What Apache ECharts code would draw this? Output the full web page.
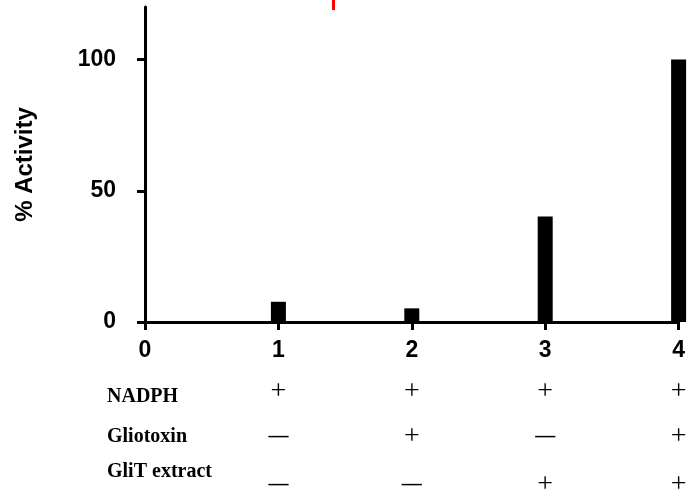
<!DOCTYPE html>
<html>
<head>
<meta charset="utf-8">
<script src="https://cdn.jsdelivr.net/npm/echarts@6/dist/echarts.min.js"></script>
<style>html,body{margin:0;padding:0;background:#fff}#c{width:688px;height:498px}</style>
</head>
<body>
<div id="c"></div>
<script>
// sample positions on the x axis
const samples = [1, 2, 3, 4];
// % activity per sample
const activity = [7.7, 5.2, 40.2, 100];
// y-axis tick labels
const yTickValues = [0, 50, 100];
// x-axis tick labels
const xTickValues = [0, 1, 2, 3, 4];
// condition table rows
const rowNames = ['NADPH', 'Gliotoxin', 'GliT extract'];
const nadph = ['+', '+', '+', '+'];
const gliotoxin = ['—', '+', '—', '+'];
const glitExtract = ['—', '—', '+', '+'];

const chart = echarts.init(document.getElementById('c'), null, {renderer: 'canvas'});
const boldSans = 'Liberation Sans, Arial, sans-serif';
const serif = 'Liberation Serif, Times New Roman, serif';

chart.setOption({
  animation: false,
  backgroundColor: '#ffffff',
  grid: {left: 145, right: 7, top: 7, bottom: 176, containLabel: false},
  xAxis: {
    type: 'value', min: 0, max: 4, interval: 1,
    splitLine: {show: false},
    axisLine: {show: true, lineStyle: {color: '#000', width: 3}},
    axisTick: {show: true, length: 8, lineStyle: {color: '#000', width: 3}, customValues: xTickValues},
    axisLabel: {color: '#000', fontSize: 23, fontWeight: 'bold', fontFamily: boldSans, margin: 17, customValues: xTickValues}
  },
  yAxis: {
    type: 'value', min: 0, max: 120, interval: 50,
    name: '% Activity', nameLocation: 'middle', nameGap: 108, nameRotate: 90,
    nameTextStyle: {color: '#000', fontSize: 24, fontWeight: 'bold', fontFamily: boldSans},
    splitLine: {show: false},
    axisLine: {show: true, lineStyle: {color: '#000', width: 3}},
    axisTick: {show: true, length: 8, lineStyle: {color: '#000', width: 3}, customValues: yTickValues},
    axisLabel: {color: '#000', fontSize: 23, fontWeight: 'bold', fontFamily: boldSans, margin: 29, customValues: yTickValues}
  },
  series: [{
    type: 'bar',
    data: samples.map((s, i) => [s, activity[i]]),
    barWidth: 15,
    clip: false,
    itemStyle: {color: '#000'}
  }]
});

// condition table under the axis
const rows = [nadph, gliotoxin, glitExtract];
const rowLabelY = [397, 437, 472];
const symbolY = [392, 437, 485];
const elements = [];
rowNames.forEach((name, r) => {
  elements.push({
    type: 'text', x: 107, y: rowLabelY[r],
    style: {text: name, fill: '#000', verticalAlign: 'middle', font: 'bold 20px ' + serif}
  });
  rows[r].forEach((sym, c) => {
    const px = chart.convertToPixel({xAxisIndex: 0}, samples[c]);
    const isPlus = sym === '+';
    elements.push({
      type: 'text', x: px, y: symbolY[r],
      style: {text: sym, fill: '#000', align: 'center', verticalAlign: 'middle',
              font: (isPlus ? '28px ' : 'bold 20px ') + serif}
    });
  });
});
// red mark at the top of the figure
elements.push({type: 'rect', shape: {x: 332, y: 0, width: 3, height: 10}, style: {fill: '#ff0000'}});
chart.setOption({graphic: {elements: elements}});
</script>
</body>
</html>
